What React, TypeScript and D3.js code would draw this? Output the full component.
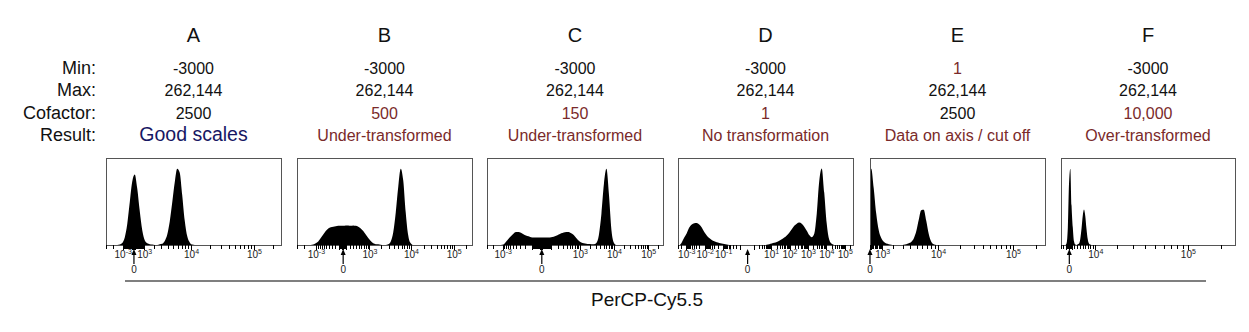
import React from "react";
import * as d3 from "d3";

const panelLetters = ["A", "B", "C", "D", "E", "F"];
const minValues = [-3000, -3000, -3000, -3000, 1, -3000];
const maxValues = [262144, 262144, 262144, 262144, 262144, 262144];
const cofactors = [2500, 500, 150, 1, 2500, 10000];
// cofactor that the drawn axis of each panel actually reflects
const axisCofactors = [2500, 500, 150, 1, 2500, 17500];
const minLabels = ["-3000", "-3000", "-3000", "-3000", "1", "-3000"];
const maxLabels = ["262,144", "262,144", "262,144", "262,144", "262,144", "262,144"];
const cofactorLabels = ["2500", "500", "150", "1", "2500", "10,000"];
const resultLabels = [
  "Good scales",
  "Under-transformed",
  "Under-transformed",
  "No transformation",
  "Data on axis / cut off",
  "Over-transformed",
];
const minFlagged = [false, false, false, false, true, false];
const cofactorFlagged = [false, true, true, true, false, true];
const rowLabels = ["Min:", "Max:", "Cofactor:", "Result:"];
const labelExponents = [
  [-3, 3, 4, 5],
  [-3, 3, 4, 5],
  [-3, 3, 4, 5],
  [-3, -2, -1, 1, 2, 3, 4, 5],
  [3, 4, 5],
  [4, 5],
];
const axisTitle = "PerCP-Cy5.5";

// histogram counts (% of box height), bins evenly spaced on each transformed axis
const histA = [
  0, 0, 0, 0, 0, 0.5, 2.2, 8.5, 24, 49,
  73, 81, 65, 39, 17, 5.5, 2, 1, 0.5, 0,
  0, 1, 1.5, 4.7, 12, 27, 49, 72, 87.6, 83,
  57, 28, 10, 3, 0.5, 0, 0, 0, 0, 0,
  0, 0, 0, 0, 0, 0, 0, 0, 0, 0,
  0, 0, 0, 0, 0, 0, 0, 0, 0, 0,
  0, 0, 0, 0, 0, 0, 0, 0, 0, 0,
];
const histB = [
  0, 0, 0, 0, 0, 0, 0.5, 2, 4, 8,
  12, 16, 19, 20.5, 21, 21.5, 22, 22, 22, 22.5,
  22.5, 22, 22.5, 22, 21, 19, 16, 12, 8, 4.5,
  2, 1, 0.8, 0.3, 0, 0, 0.8, 4, 14.6, 37.5,
  67, 87.7, 74, 37, 11, 2, 0, 0, 0, 0,
  0, 0, 0, 0, 0, 0, 0, 0, 0, 0,
  0, 0, 0, 0, 0, 0, 0, 0, 0, 0,
];
const histC = [
  0, 0, 0, 0, 0, 0, 0.5, 3.5, 7, 10,
  13, 15, 15, 14, 12.5, 11, 10, 9, 8.5, 8.5,
  8.5, 8.5, 8.5, 8.5, 8.5, 9, 9.5, 10.5, 12, 13.5,
  14.5, 15, 15, 13.5, 11.5, 8, 5, 3, 2, 1.5,
  1.2, 1, 1, 2.4, 11.5, 35.5, 70, 87.7, 58, 17,
  2.4, 0, 0, 0, 0, 0, 0, 0, 0, 0,
  0, 0, 0, 0, 0, 0, 0, 0, 0, 0,
];
const histD = [
  0, 3, 8.5, 13.5, 20, 23.5, 25, 25.4, 23.5, 20,
  15, 11, 8, 5.8, 4.3, 3.2, 2.4, 1.7, 1.1, 0.5,
  0, 0, 0, 0, 0, 0, 0, 0, 0, 0,
  0, 0, 0, 0, 0, 0.3, 1, 1.7, 2.5, 3.5,
  5, 6.5, 8.5, 11, 14, 18, 22, 24.5, 25.8, 24.5,
  21, 16.5, 11.5, 9, 13, 36, 73.5, 88, 60, 24.5,
  6, 1.3, 0, 0, 0, 0, 0, 0, 0, 0,
];
const histE = [
  87.6, 65, 36, 17, 8, 3.6, 1.7, 1, 0.3, 0,
  0, 0, 0, 0.3, 1, 2, 3.5, 7.5, 15.7, 29,
  40, 40.5, 27.8, 12.6, 3.8, 0.8, 0, 0, 0, 0,
  0, 0, 0, 0, 0, 0, 0, 0, 0, 0,
  0, 0, 0, 0, 0, 0, 0, 0, 0, 0,
  0, 0, 0, 0, 0, 0, 0, 0, 0, 0,
  0, 0, 0, 0, 0, 0, 0, 0, 0, 0,
];
const histF = [
  0, 0, 0, 0, 2, 20, 72, 87.6, 45, 20,
  4, 0.5, 0, 1, 1.8, 7, 18.6, 33.6, 40.7, 33.6,
  18.8, 7, 1.8, 0.5, 0, 0, 0, 0, 0, 0,
  0, 0, 0, 0, 0, 0, 0, 0, 0, 0,
  0, 0, 0, 0, 0, 0, 0, 0, 0, 0,
  0, 0, 0, 0, 0, 0, 0, 0, 0, 0,
  0, 0, 0, 0, 0, 0, 0, 0, 0, 0,
  0, 0, 0, 0, 0, 0, 0, 0, 0, 0,
  0, 0, 0, 0, 0, 0, 0, 0, 0, 0,
  0, 0, 0, 0, 0, 0, 0, 0, 0, 0,
  0, 0, 0, 0, 0, 0, 0, 0, 0, 0,
  0, 0, 0, 0, 0, 0, 0, 0, 0, 0,
  0, 0, 0, 0, 0, 0, 0, 0, 0, 0,
  0, 0, 0, 0, 0, 0, 0, 0, 0, 0,
];
const histograms = [histA, histB, histC, histD, histE, histF];

// layout
const panelLefts = [106, 297, 487, 678, 870, 1061];
const panelWidths = [175, 175, 176, 175, 175, 174];
const boxTop = 158;
const boxBottom = 245;
const rowBaselines = [74, 96, 119, 141];
const FONT = "Arial, 'Liberation Sans', Helvetica, sans-serif";
const RED = "#7a2a2a";
const NAVY = "#171763";

export default function App() {
  const y = d3.scaleLinear().domain([0, 100]).range([boxBottom, boxTop]);

  return (
    <svg
      width={1249}
      height={332}
      style={{ position: "absolute", left: 0, top: 0 }}
      fontFamily={FONT}
    >
      <rect x={0} y={0} width={1249} height={332} fill="#fff" />
      {rowLabels.map((l, r) => (
        <text key={l} x={96} y={rowBaselines[r]} textAnchor="end" fontSize={18} fill="#111">
          {l}
        </text>
      ))}
      {panelLetters.map((letter, i) => {
        const left = panelLefts[i];
        const w = panelWidths[i];
        const cx = left + w / 2;
        const c = axisCofactors[i];
        const t = (v: number) => Math.asinh(v / c);
        const x = d3
          .scaleLinear()
          .domain([t(minValues[i]), t(maxValues[i])])
          .range([left, left + w]);
        const [t0, t1] = x.domain();
        const hist = histograms[i];
        const n = hist.length;
        const dt = (t1 - t0) / n;
        const pts: [number, number][] = [
          [t0, hist[0]],
          ...hist.map((v, k) => [t0 + (k + 0.5) * dt, v] as [number, number]),
          [t1, hist[n - 1]],
        ];
        const area = d3
          .area<[number, number]>()
          .x((d) => x(d[0]))
          .y0(boxBottom)
          .y1((d) => y(d[1]))
          .curve(d3.curveMonotoneX);

        const ticks: { v: number; major: boolean }[] = [];
        for (let k = 0; k <= 5; k++) {
          for (let m = 1; m <= 9; m++) {
            for (const s of [1, -1]) {
              const v = s * m * Math.pow(10, k);
              if (v >= minValues[i] && v <= maxValues[i]) ticks.push({ v, major: m === 1 });
            }
          }
        }
        const x0 = x(t(0));
        return (
          <g key={letter}>
            <text x={cx} y={42} textAnchor="middle" fontSize={20} fill="#111">
              {letter}
            </text>
            <text x={cx} y={rowBaselines[0]} textAnchor="middle" fontSize={16} fill={minFlagged[i] ? RED : "#111"}>
              {minLabels[i]}
            </text>
            <text x={cx} y={rowBaselines[1]} textAnchor="middle" fontSize={16} fill="#111">
              {maxLabels[i]}
            </text>
            <text x={cx} y={rowBaselines[2]} textAnchor="middle" fontSize={16} fill={cofactorFlagged[i] ? RED : "#111"}>
              {cofactorLabels[i]}
            </text>
            <text
              x={cx}
              y={rowBaselines[3]}
              textAnchor="middle"
              fontSize={i === 0 ? 19.5 : 16}
              fill={i === 0 ? NAVY : RED}
            >
              {resultLabels[i]}
            </text>
            <path d={area(pts) || ""} fill="#000" />
            <rect
              x={left}
              y={boxTop}
              width={w}
              height={boxBottom - boxTop}
              fill="none"
              stroke="#555"
              strokeWidth={1}
              shapeRendering="crispEdges"
            />
            {ticks.map((tk, j) => (
              <line
                key={j}
                x1={x(t(tk.v))}
                x2={x(t(tk.v))}
                y1={boxBottom}
                y2={boxBottom + (tk.major ? 5 : 3.5)}
                stroke="#000"
                strokeWidth={1}
                shapeRendering="crispEdges"
              />
            ))}
            {labelExponents[i].map((e) => {
              const v = Math.sign(e) * Math.pow(10, Math.abs(e));
              return (
                <text key={e} x={x(t(v))} y={258} textAnchor="middle" fontSize={10} fill="#222">
                  10
                  <tspan dy={-4.5} fontSize={7}>
                    {e < 0 ? "-" + Math.abs(e) : String(e)}
                  </tspan>
                </text>
              );
            })}
            <line x1={x0} x2={x0} y1={252} y2={264} stroke="#000" strokeWidth={1.2} />
            <path d={`M${x0},249 L${x0 - 2.5},255 L${x0 + 2.5},255 Z`} fill="#000" />
            <text x={x0} y={273} textAnchor="middle" fontSize={10} fill="#222">
              0
            </text>
          </g>
        );
      })}
      <line x1={125} x2={1206} y1={281} y2={281} stroke="#000" strokeWidth={1.2} />
      <text x={647} y={306} textAnchor="middle" fontSize={19} fill="#111">
        {axisTitle}
      </text>
    </svg>
  );
}
